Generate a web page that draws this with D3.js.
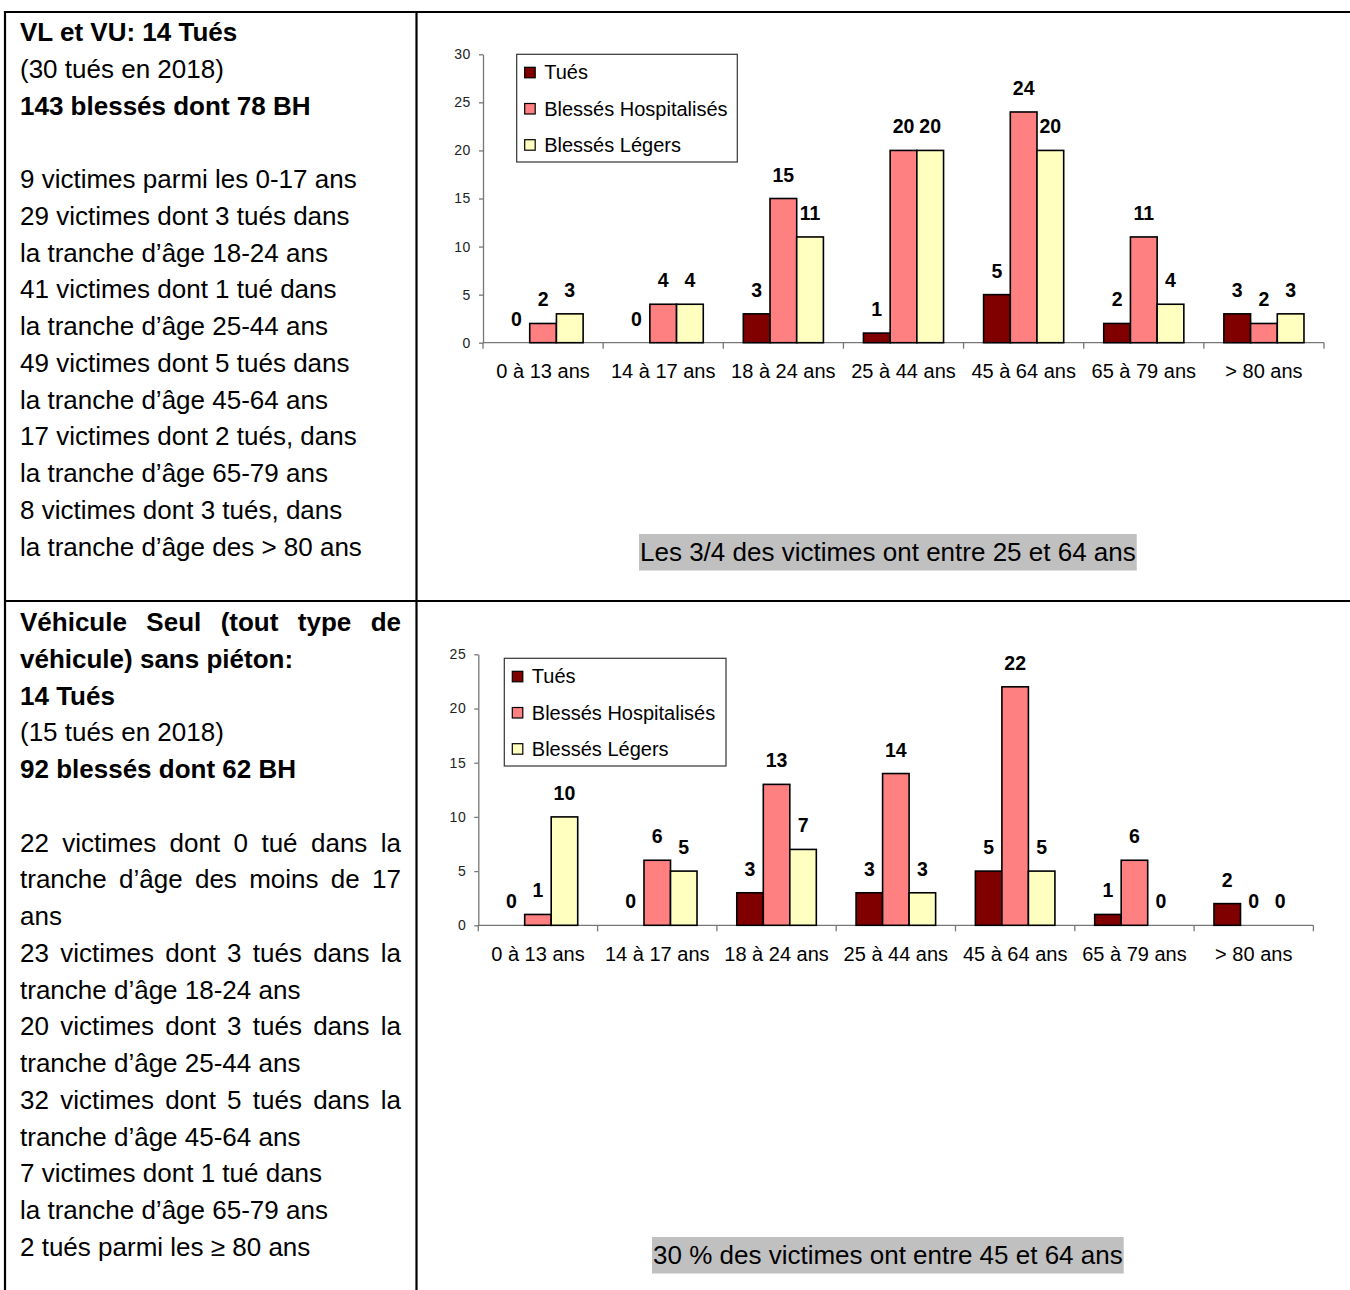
<!DOCTYPE html>
<html><head><meta charset="utf-8">
<script src="https://cdn.jsdelivr.net/npm/d3@7"></script>
<style>
body{margin:0;background:#fff}
svg{display:block}
text{font-family:"Liberation Sans",Arial,Helvetica,sans-serif}
</style>
</head><body>
<svg id="c" width="1350" height="1290"></svg>
<script>
// ---------- DATA ----------
const categories = ["0 à 13 ans","14 à 17 ans","18 à 24 ans","25 à 44 ans","45 à 64 ans","65 à 79 ans","> 80 ans"];
const seriesNames = ["Tués","Blessés Hospitalisés","Blessés Légers"];
const seriesColors = ["#800000","#FF8080","#FFFFC0"];

// Chart 1 : VL et VU
const vlvuTues = [0,0,3,1,5,2,3];
const vlvuBH   = [2,4,15,20,24,11,2];
const vlvuBL   = [3,4,11,20,20,4,3];
const vlvuTicks = [0,5,10,15,20,25,30];

// Chart 2 : Véhicule seul sans piéton
const vsTues = [0,0,3,3,5,1,2];
const vsBH   = [1,6,13,14,22,6,0];
const vsBL   = [10,5,7,3,5,0,0];
const vsTicks = [0,5,10,15,20,25];

const caption1 = "Les 3/4 des victimes ont entre 25 et 64 ans";
const caption2 = "30 % des victimes ont entre 45 et 64 ans";

// left column texts: [text, bold, justified]
const text1 = [
  ["VL et VU: 14 Tués",1,0],
  ["(30 tués en 2018)",0,0],
  ["143 blessés dont 78 BH",1,0],
  ["",0,0],
  ["9 victimes parmi les 0-17 ans",0,0],
  ["29 victimes dont 3 tués dans",0,0],
  ["la tranche d’âge 18-24 ans",0,0],
  ["41 victimes dont 1 tué dans",0,0],
  ["la tranche d’âge 25-44 ans",0,0],
  ["49 victimes dont 5 tués dans",0,0],
  ["la tranche d’âge 45-64 ans",0,0],
  ["17 victimes dont 2 tués, dans",0,0],
  ["la tranche d’âge 65-79 ans",0,0],
  ["8 victimes dont 3 tués, dans",0,0],
  ["la tranche d’âge des > 80 ans",0,0]
];
const text2 = [
  ["Véhicule Seul (tout type de",1,1],
  ["véhicule) sans piéton:",1,0],
  ["14 Tués",1,0],
  ["(15 tués en 2018)",0,0],
  ["92 blessés dont 62 BH",1,0],
  ["",0,0],
  ["22 victimes dont 0 tué dans la",0,1],
  ["tranche d’âge des moins de 17",0,1],
  ["ans",0,0],
  ["23 victimes dont 3 tués dans la",0,1],
  ["tranche d’âge 18-24 ans",0,0],
  ["20 victimes dont 3 tués dans la",0,1],
  ["tranche d’âge 25-44 ans",0,0],
  ["32 victimes dont 5 tués dans la",0,1],
  ["tranche d’âge 45-64 ans",0,0],
  ["7 victimes dont 1 tué dans",0,0],
  ["la tranche d’âge 65-79 ans",0,0],
  ["2 tués parmi les ≥ 80 ans",0,0]
];

// ---------- DRAW ----------
const svg = d3.select("#c");
svg.append("rect").attr("width",1350).attr("height",1290).attr("fill","#fff");

// table borders
const borders = svg.append("g").attr("stroke","#000").attr("stroke-width",2.2);
borders.append("line").attr("x1",4).attr("x2",1350).attr("y1",12).attr("y2",12);
borders.append("line").attr("x1",4).attr("x2",1350).attr("y1",601).attr("y2",601);
borders.append("line").attr("x1",5).attr("x2",5).attr("y1",11).attr("y2",1290);
borders.append("line").attr("x1",416.5).attr("x2",416.5).attr("y1",11).attr("y2",1290);

function drawText(lines, startY){
  const g = svg.append("g");
  const left = 20, right = 401, pitch = 36.75;
  lines.forEach((l,i)=>{
    if(!l[0]) return;
    const y = startY + i*pitch;
    const weight = l[1] ? "bold" : "normal";
    if(!l[2]){
      g.append("text").attr("x",left).attr("y",y).attr("font-size",26)
        .attr("font-weight",weight).attr("fill","#000").text(l[0]);
    } else {
      const words = l[0].split(" ");
      const nodes = words.map(w => g.append("text").attr("y",y).attr("font-size",26)
        .attr("font-weight",weight).attr("fill","#000").text(w));
      const widths = nodes.map(n => n.node().getComputedTextLength());
      const total = d3.sum(widths);
      const gap = (right-left-total)/(words.length-1);
      let x = left;
      nodes.forEach((n,k)=>{ n.attr("x",x); x += widths[k]+gap; });
    }
  });
}
drawText(text1, 41);
drawText(text2, 631);

function drawChart(opt, tues, bh, bl){
  const g = svg.append("g");
  const x = d3.scaleBand().domain(categories).range([opt.left,opt.right]).padding(0);
  const y = d3.scaleLinear().domain([0,opt.max]).range([opt.zeroY,opt.topY]);
  const bw = x.bandwidth();
  const xs = d3.scaleBand().domain(seriesNames).range([bw/6, bw-bw/6]).padding(0);

  // y axis
  const ya = g.append("g").attr("transform",`translate(${opt.left},0)`)
    .call(d3.axisLeft(y).tickValues(opt.ticks).tickSize(4).tickPadding(8).tickSizeOuter(0));
  ya.select(".domain").attr("stroke","#777").attr("stroke-width",1.3);
  ya.selectAll(".tick line").attr("stroke","#777").attr("stroke-width",1.3);
  ya.selectAll(".tick text").attr("font-size",14).attr("fill","#222")
    .attr("font-family","'Liberation Sans',Arial,sans-serif").attr("letter-spacing","0.6");

  // x axis
  const bounds = categories.map(c=>x(c)).concat([opt.right]);
  g.append("line").attr("x1",opt.left).attr("x2",opt.right).attr("y1",opt.zeroY).attr("y2",opt.zeroY)
    .attr("stroke","#777").attr("stroke-width",1.3);
  g.selectAll(".xt").data(bounds).join("line").attr("class","xt")
    .attr("x1",d=>d).attr("x2",d=>d).attr("y1",opt.zeroY).attr("y2",opt.zeroY+6)
    .attr("stroke","#777").attr("stroke-width",1.3);
  g.selectAll(".xl").data(categories).join("text").attr("class","xl")
    .attr("x",d=>x(d)+bw/2).attr("y",opt.zeroY+35.5).attr("text-anchor","middle")
    .attr("font-size",20).attr("fill","#000").text(d=>d);

  // bars
  const rows = [];
  categories.forEach((c,i)=>{
    [tues,bh,bl].forEach((arr,s)=>rows.push({c, s, v:arr[i]}));
  });
  g.selectAll(".bar").data(rows.filter(r=>r.v>0)).join("rect").attr("class","bar")
    .attr("x",d=>x(d.c)+xs(seriesNames[d.s]))
    .attr("width",xs.bandwidth())
    .attr("y",d=>y(d.v)).attr("height",d=>y(0)-y(d.v))
    .attr("fill",d=>seriesColors[d.s]).attr("stroke","#000").attr("stroke-width",1.6);
  g.selectAll(".val").data(rows).join("text").attr("class","val")
    .attr("x",d=>x(d.c)+xs(seriesNames[d.s])+xs.bandwidth()/2)
    .attr("y",d=>y(d.v)-17).attr("text-anchor","middle")
    .attr("font-size",19.5).attr("font-weight","bold").attr("fill","#000").text(d=>d.v);

  // legend
  const L = opt.legend;
  const lg = g.append("g");
  lg.append("rect").attr("x",L.x).attr("y",L.y).attr("width",L.w).attr("height",L.h)
    .attr("fill","#fff").attr("stroke","#333").attr("stroke-width",1.2);
  seriesNames.forEach((n,i)=>{
    const cy = L.y + 18 + i*36.2;
    lg.append("rect").attr("x",L.x+8).attr("y",cy-5).attr("width",10.5).attr("height",10.5)
      .attr("fill",seriesColors[i]).attr("stroke","#000").attr("stroke-width",1.2);
    lg.append("text").attr("x",L.x+27.5).attr("y",cy+7).attr("font-size",20).attr("fill","#000").text(n);
  });
}

drawChart({left:483,right:1324,zeroY:342.7,topY:54.3,max:30,ticks:vlvuTicks,
  legend:{x:516.7,y:54.3,w:220.6,h:107.7}}, vlvuTues, vlvuBH, vlvuBL);
drawChart({left:478.3,right:1313.4,zeroY:925.3,topY:654.3,max:25,ticks:vsTicks,
  legend:{x:504.3,y:658.3,w:221.7,h:107.7}}, vsTues, vsBH, vsBL);

function caption(t, x, baseline){
  const g = svg.append("g");
  const r = g.append("rect").attr("fill","#C0C0C0");
  const tx = g.append("text").attr("x",x).attr("y",baseline).attr("font-size",26).attr("fill","#000").text(t);
  const w = tx.node().getComputedTextLength();
  r.attr("x",x-1).attr("y",baseline-27).attr("width",w+2).attr("height",36.5);
}
caption(caption1, 640, 561);
caption(caption2, 653, 1264);
</script>
</body></html>
